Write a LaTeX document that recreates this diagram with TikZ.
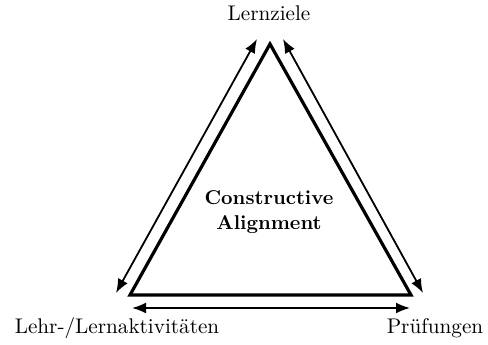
\documentclass[tikz,border=0pt]{standalone}
\usepackage{tikz}
\usetikzlibrary{arrows.meta}

\begin{document}
\begin{tikzpicture}[
  x=0.5pt,y=-0.5pt,
  lbl/.style={font=\fontsize{10.6}{12}\selectfont,inner sep=0pt},
  core/.style={font=\fontsize{10}{12.5}\selectfont\bfseries,align=center,inner sep=0pt},
  side/.style={line width=1.6pt,line join=miter},
  arr/.style={{Latex[length=7pt,width=5.5pt]}-{Latex[length=7pt,width=5.5pt]},line width=0.9pt}
]
\useasboundingbox (0,0) rectangle (488,344);
% corners of the triangle
\coordinate (top) at (270,44);
\coordinate (bl) at (130,295);
\coordinate (br) at (411,295);
\draw[side] (top) -- (br) -- (bl) -- cycle;
% arrow ends
\coordinate (lt) at (257,39);
\coordinate (lb) at (116,293);
\coordinate (rt) at (283,39);
\coordinate (rb) at (423,293);
\coordinate (bl2) at (132,308);
\coordinate (br2) at (410,308);
\draw[arr] (lt) -- (lb);
\draw[arr] (rt) -- (rb);
\draw[arr] (bl2) -- (br2);
\node[lbl,anchor=base] (ziele) at (269,20) {Lernziele};
\node[lbl,anchor=base] (lehr) at (117,333) {Lehr-/Lernaktivitäten};
\node[lbl,anchor=base] (pruef) at (435,333) {Prüfungen};
\node[core] (ca) at (269,212) {Constructive\\Alignment};
\end{tikzpicture}
\end{document}
